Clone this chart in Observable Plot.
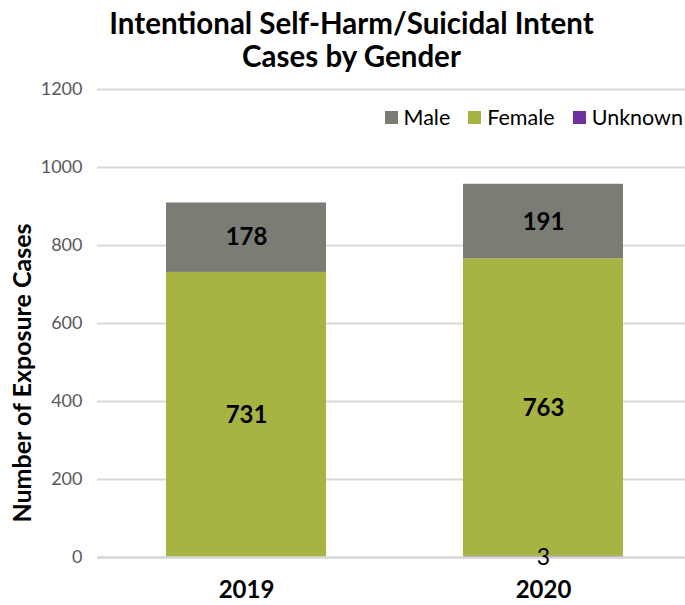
<!DOCTYPE html>
<html><head><meta charset="utf-8">
<script src="https://cdn.jsdelivr.net/npm/d3@7"></script>
<script src="https://cdn.jsdelivr.net/npm/@observablehq/plot@0.6"></script>
<style>
body{margin:0;background:#fff;font-family:Lato,"Open Sans",sans-serif;}
#wrap{position:relative;width:685px;height:605px;}
#title{height:70px;box-sizing:border-box;padding-top:6px;text-align:center;font-weight:bold;font-size:29.5px;line-height:33px;color:#000;padding-left:18px;white-space:nowrap;}
#legend{position:absolute;top:104px;right:2px;font-size:21.5px;color:#000;display:flex;gap:18px;align-items:center;}
#legend span.sw{display:inline-block;width:13px;height:13px;margin-right:6px;}
#legend div{display:flex;align-items:center;}
</style></head>
<body><div id="wrap"><div id="title">Intentional Self-Harm/Suicidal Intent<br>Cases by Gender</div><div id="chart"></div><div id="legend"></div></div>
<script>
const years = ["2019", "2020"];
const genders = ["Unknown", "Female", "Male"];
const legendOrder = ["Male", "Female", "Unknown"];
const male = [178, 191];
const female = [731, 763];
const unknown = [0, 3];
const colors = {Male: "#7b7c74", Female: "#a7b444", Unknown: "#7030a0"};
const yTicks = [0, 200, 400, 600, 800, 1000, 1200];

const rows = [];
years.forEach((y, i) => {
  rows.push({year: y, gender: "Unknown", value: unknown[i]});
  rows.push({year: y, gender: "Female", value: female[i]});
  rows.push({year: y, gender: "Male", value: male[i]});
});
const barRows = rows.filter(d => d.value > 0);
const bigLabels = barRows.filter(d => d.gender !== "Unknown");
const smallLabels = barRows.filter(d => d.gender === "Unknown");

const plot = Plot.plot({
  width: 685, height: 535,
  marginTop: 19, marginBottom: 48, marginLeft: 97, marginRight: 0,
  style: {fontFamily: "Lato, 'Open Sans', sans-serif", background: "#fff"},
  x: {domain: years, range: [97, 692], padding: 0.4613, paddingOuter: 0.2323, label: null},
  y: {domain: [0, 1200], ticks: yTicks, label: null},
  color: {domain: genders, range: genders.map(g => colors[g])},
  marks: [
    Plot.gridY(yTicks, {stroke: "#d9d9d9", strokeOpacity: 1, strokeWidth: 2}),
    Plot.axisY({ticks: yTicks, tickSize: 0, tickPadding: 15, fontSize: 18, fill: "#595959", label: null, tickFormat: d => String(d)}),
    Plot.axisX({tickSize: 0, tickPadding: 23, fontSize: 24, fontWeight: "bold", fill: "#000", label: null}),
    Plot.barY(barRows, Plot.stackY({x: "year", y: "value", fill: "gender", order: genders})),
    Plot.ruleY([0], {stroke: "#d9d9d9", strokeWidth: 2.5}),
    Plot.text(bigLabels, Plot.stackY({x: "year", y: "value", z: "gender", order: genders, text: d => String(d.value), fontSize: 24, fontWeight: "bold", fill: "#000"})),
    Plot.text(smallLabels, {x: "year", y: 0, text: d => String(d.value), fontSize: 23, fill: "#000"})
  ]
});
document.getElementById("chart").appendChild(plot);

// y-axis title (SVG starts 70px below page top)
d3.select(plot).append("text")
  .attr("transform", "translate(31,303) rotate(-90)")
  .attr("text-anchor", "middle")
  .attr("font-size", 25)
  .attr("font-weight", "bold")
  .attr("fill", "#000")
  .style("font-family", "Lato, 'Open Sans', sans-serif")
  .text("Number of Exposure Cases");

const lg = d3.select("#legend");
legendOrder.forEach(g => {
  const item = lg.append("div");
  item.append("span").attr("class", "sw").style("background", colors[g]);
  item.append("span").text(g);
});
</script></body></html>
